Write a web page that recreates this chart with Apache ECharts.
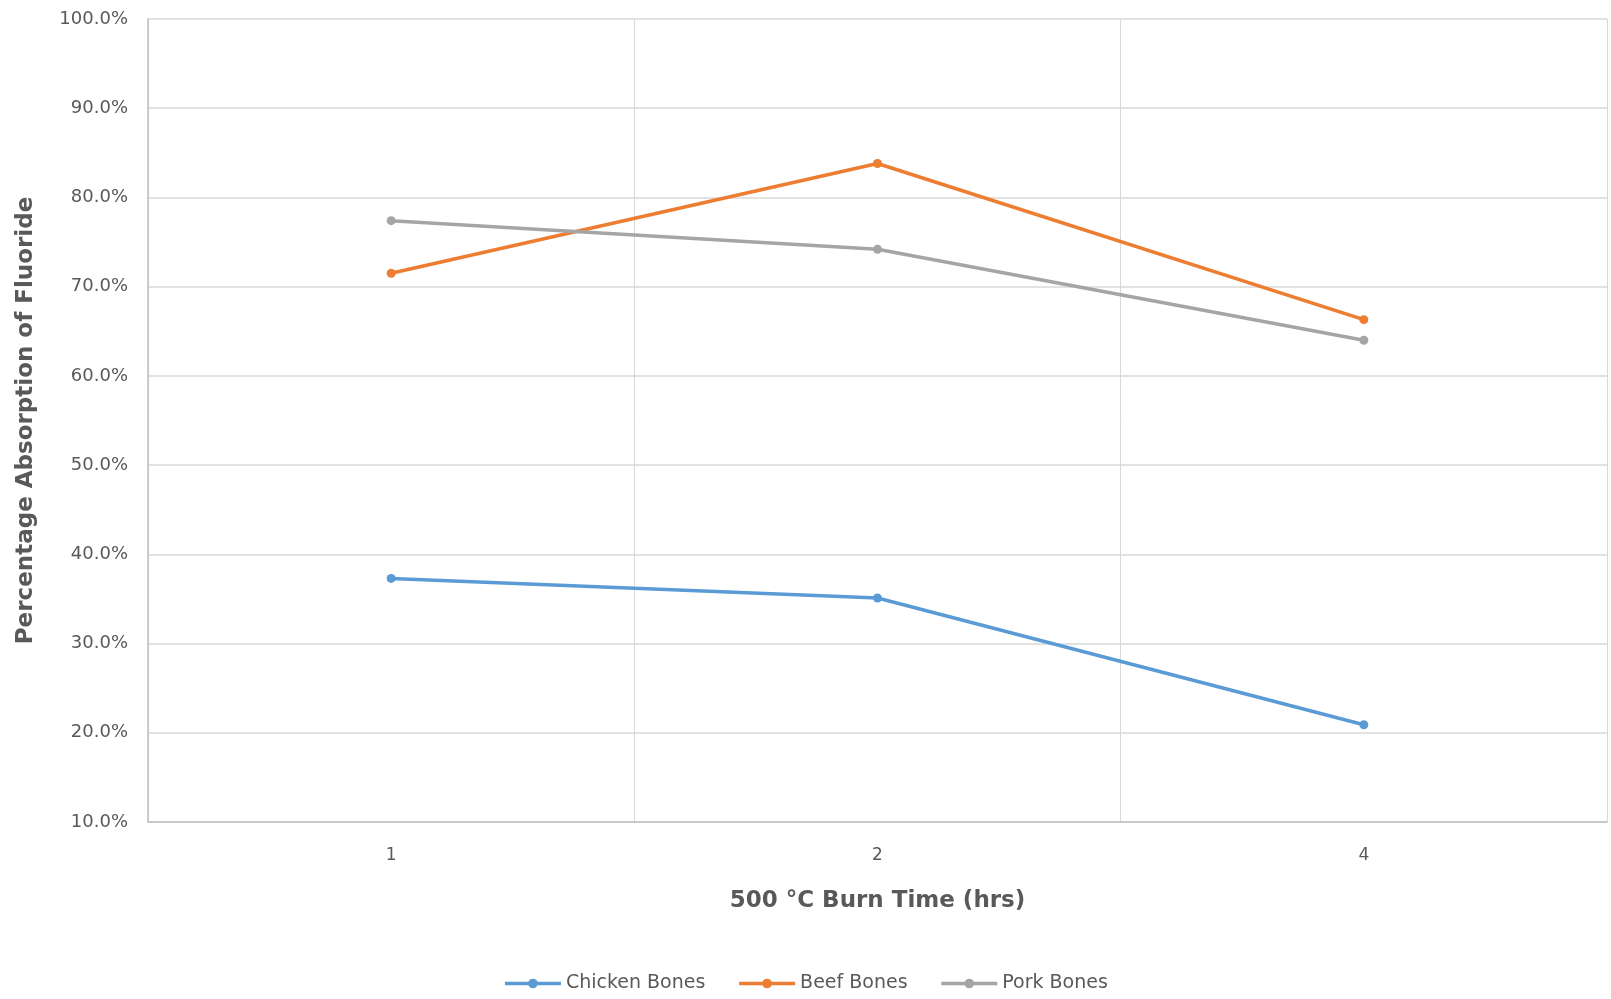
<!DOCTYPE html>
<html>
<head>
<meta charset="utf-8">
<style>
  html, body { margin: 0; padding: 0; background: #ffffff; }
  #chart { width: 1611px; height: 999px; }
</style>
<script src="https://cdn.jsdelivr.net/npm/echarts@6/dist/echarts.min.js"></script>
</head>
<body>
<div id="chart"></div>
<script>
// Burn time categories (hours at 500 °C)
const burnTimes = ['1', '2', '4'];

// Percentage absorption of fluoride per bone type
const chickenBones = [37.3, 35.1, 20.9];
const beefBones = [71.5, 83.8, 66.3];
const porkBones = [77.4, 74.2, 64.0];

// Y axis range (percent)
const yMin = 10;
const yMax = 100;
const yStep = 10;

const fontFamily = '"DejaVu Sans", "Open Sans", sans-serif';
const textColor = '#595959';

function lineSeries(name, data, color) {
  return {
    name: name,
    type: 'line',
    data: data,
    symbol: 'circle',
    symbolSize: 9,
    lineStyle: { color: color, width: 3.5 },
    itemStyle: { color: color },
    emphasis: { disabled: true }
  };
}

const chart = echarts.init(document.getElementById('chart'), null, { renderer: 'canvas' });

chart.setOption({
  backgroundColor: '#ffffff',
  animation: false,
  grid: { left: 148, right: 4, top: 19, bottom: 177 },
  legend: {
    bottom: 1,
    left: 'center',
    itemWidth: 56,
    itemHeight: 12,
    itemGap: 32,
    lineStyle: { width: 3.5 },
    textStyle: { fontFamily: fontFamily, fontSize: 19, color: textColor },
    data: ['Chicken Bones', 'Beef Bones', 'Pork Bones']
  },
  xAxis: {
    type: 'category',
    data: burnTimes,
    boundaryGap: true,
    name: '500 °C Burn Time (hrs)',
    nameLocation: 'middle',
    nameGap: 68,
    nameTextStyle: { fontFamily: fontFamily, fontSize: 23, fontWeight: 'bold', color: textColor },
    axisLine: { show: true, lineStyle: { color: '#bfbfbf', width: 1.5 } },
    axisTick: { show: false },
    axisLabel: { fontFamily: fontFamily, fontSize: 17, color: textColor, margin: 25 },
    splitLine: { show: true, interval: 0, lineStyle: { color: '#d9d9d9', width: 1 } }
  },
  yAxis: {
    type: 'value',
    min: yMin,
    max: yMax,
    interval: yStep,
    name: 'Percentage Absorption of Fluoride',
    nameLocation: 'middle',
    nameGap: 110,
    nameRotate: 90,
    nameTextStyle: { fontFamily: fontFamily, fontSize: 23, fontWeight: 'bold', color: textColor },
    axisLine: { show: true, lineStyle: { color: '#bfbfbf', width: 1.5 } },
    axisTick: { show: false },
    axisLabel: {
      fontFamily: fontFamily,
      fontSize: 18,
      color: textColor,
      margin: 20,
      formatter: function (v) { return v.toFixed(1) + '%'; }
    },
    splitLine: { show: true, lineStyle: { color: '#d9d9d9', width: 1.5 } }
  },
  series: [
    lineSeries('Chicken Bones', chickenBones, '#5b9bd5'),
    lineSeries('Beef Bones', beefBones, '#ed7d31'),
    lineSeries('Pork Bones', porkBones, '#a5a5a5')
  ]
});
</script>
</body>
</html>
